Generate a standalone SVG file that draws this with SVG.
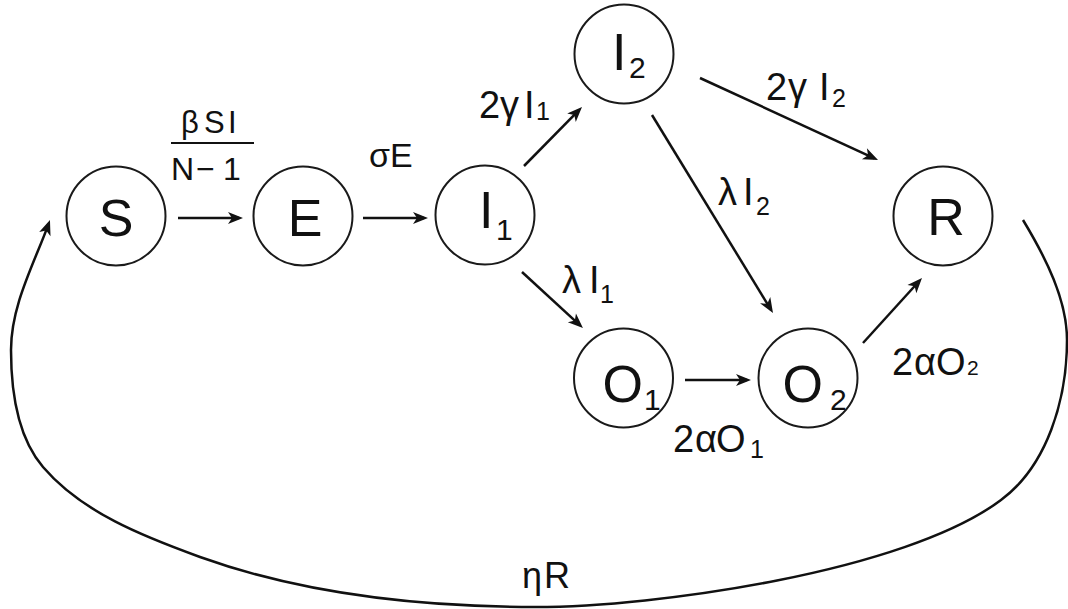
<svg xmlns="http://www.w3.org/2000/svg" width="1068" height="609" viewBox="0 0 1068 609">
<style>
.node{fill:#fff;stroke:#1a1a1a;stroke-width:2}
.lbl{font-family:"Liberation Sans",Arial,sans-serif;fill:#111}
.big{font-size:52px}
.sub{font-size:30px}
.e{font-size:38px}
.es{font-size:25px}
.edge{fill:none;stroke:#111;stroke-width:2.5;marker-end:url(#ah)}
</style>
<defs>
<marker id="ah" viewBox="-16 -7 17 14" markerWidth="17" markerHeight="14" refX="-4" refY="0" orient="auto" markerUnits="userSpaceOnUse">
<path d="M0,0 L-15,-6 L-11,0 L-15,6 Z" fill="#111"/>
</marker>
</defs>
<rect width="1068" height="609" fill="#fff"/>
<g id="connectors">
<line class="edge" x1="178" y1="218" x2="239" y2="218"/>
<line class="edge" x1="363" y1="218" x2="424" y2="218"/>
<line class="edge" x1="524" y1="166" x2="579.2" y2="109.9"/>
<line class="edge" x1="700" y1="78" x2="874.4" y2="158.3"/>
<line class="edge" x1="652" y1="115" x2="770.9" y2="309.6"/>
<line class="edge" x1="522" y1="272" x2="580" y2="325.3"/>
<line class="edge" x1="685" y1="380" x2="747" y2="380"/>
<line class="edge" x1="863" y1="343" x2="919.3" y2="281"/>
<path class="edge" d="M1023,220 C1046,258 1067,300 1067,340 C1067,400 1047,466 1001,500 C905,572 655,607 535,607 C422,607 306,595 200,557 C143.6,536.6 82,512.6 43,467 C17,436.6 11,390 11,350 C11,305 34.7,262.3 48.6,223.8"/>
<line x1="171" y1="143" x2="254" y2="143" stroke="#111" stroke-width="2"/>
</g>
<g id="node-S"><circle class="node" cx="116" cy="216" r="49.5"/><text class="lbl big" x="116" y="236" text-anchor="middle">S</text></g>
<g id="node-E"><circle class="node" cx="303" cy="216" r="49.5"/><text class="lbl big" x="305" y="236" text-anchor="middle">E</text></g>
<g id="node-I1"><circle class="node" cx="485" cy="215" r="49.5"/><text class="lbl"><tspan class="big" x="479" y="228">I</tspan><tspan class="sub" x="496" y="240">1</tspan></text></g>
<g id="node-I2"><circle class="node" cx="624" cy="54" r="49.5"/><text class="lbl"><tspan class="big" x="612" y="70">I</tspan><tspan class="sub" x="629" y="78">2</tspan></text></g>
<g id="node-R"><circle class="node" cx="943" cy="216" r="49.5"/><text class="lbl big" x="946" y="235" text-anchor="middle">R</text></g>
<g id="node-O1"><circle class="node" cx="623.5" cy="378" r="49.5"/><text class="lbl"><tspan class="big" x="602.5" y="402">O</tspan><tspan class="sub" x="644" y="410">1</tspan></text></g>
<g id="node-O2"><circle class="node" cx="808" cy="378" r="49.5"/><text class="lbl"><tspan class="big" x="782.5" y="402">O</tspan><tspan class="sub" x="830" y="410">2</tspan></text></g>
<g id="labels">
<text class="lbl" style="font-size:31px"><tspan x="181" y="133">β</tspan><tspan x="204" y="133">S</tspan><tspan x="228" y="133">I</tspan></text>
<text class="lbl" style="font-size:32px"><tspan x="171" y="180">N</tspan><tspan x="196" y="180">−</tspan><tspan x="223" y="180">1</tspan></text>
<text class="lbl" style="font-size:34px" x="369" y="167">σE</text>
<text class="lbl"><tspan class="e" x="479" y="118">2</tspan><tspan class="e" x="500" y="118">γ</tspan><tspan class="e" x="524" y="118">I</tspan><tspan class="es" x="536" y="120">1</tspan></text>
<text class="lbl"><tspan class="e" x="766" y="100">2</tspan><tspan class="e" x="788" y="100">γ</tspan><tspan class="e" x="819" y="100">I</tspan><tspan class="es" x="832" y="107">2</tspan></text>
<text class="lbl"><tspan class="e" x="718" y="205">λ</tspan><tspan class="e" x="743" y="205">I</tspan><tspan class="es" x="756" y="215">2</tspan></text>
<text class="lbl"><tspan class="e" x="562" y="293">λ</tspan><tspan class="e" x="589" y="293">I</tspan><tspan class="es" x="600" y="303">1</tspan></text>
<text class="lbl"><tspan class="e" x="673" y="452">2</tspan><tspan class="e" x="695" y="452">α</tspan><tspan class="e" x="716" y="452">O</tspan><tspan class="es" x="750" y="458">1</tspan></text>
<text class="lbl"><tspan class="e" x="892" y="375">2</tspan><tspan class="e" x="914" y="375">α</tspan><tspan class="e" x="936" y="375">O</tspan><tspan style="font-size:21px" x="967" y="375">2</tspan></text>
<text class="lbl" style="font-size:36px"><tspan x="522" y="588">η</tspan><tspan x="544" y="588">R</tspan></text>
</g>
</svg>
